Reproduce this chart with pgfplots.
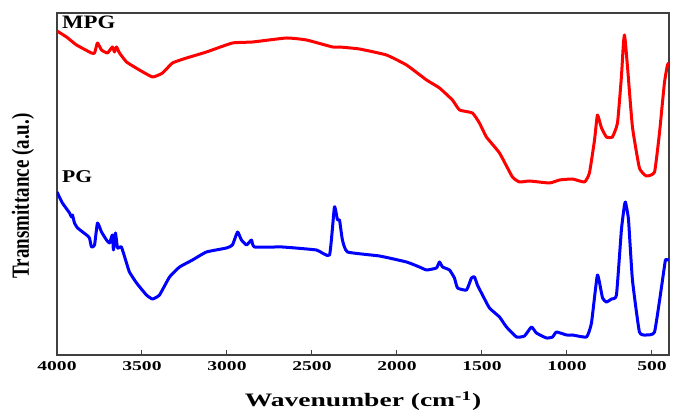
\documentclass[border=0pt]{standalone}
\usepackage{graphicx}
\usepackage{fontspec}
\setmainfont{Liberation Serif}
\usepackage{pgfplots}
\pgfplotsset{compat=1.18}
\newcommand{\sx}[1]{\scalebox{1.45}[1]{#1}}
\begin{document}
\begin{tikzpicture}
\begin{axis}[
  scale only axis, width=612pt, height=342pt,
  x dir=reverse, xmin=400, xmax=4000, ymin=0, ymax=342,
  axis line style={draw=black!75, line width=1.2pt},
  xtick={4000,3500,3000,2500,2000,1500,1000,500},
  xticklabels={\sx{4000},\sx{3500},\sx{3000},\sx{2500},\sx{2000},\sx{1500},\sx{1000},\sx{500}},
  xtick pos=bottom, tick align=inside, major tick length=5pt,
  tick style={black!75, line width=1pt},
  ytick=\empty,
  xticklabel style={font=\fontsize{13.5}{14}\selectfont\bfseries, yshift=-3pt},
  xlabel={\sx{Wavenumber (cm\textsuperscript{-1})}},
  ylabel={\scalebox{1}[1.3]{Transmittance (a.u.)}},
  every axis x label/.style={at={(axis description cs:0.5,0)}, yshift=-46pt, anchor=center, font=\fontsize{19}{20}\selectfont\bfseries},
  every axis y label/.style={at={(axis description cs:0,0.5)}, xshift=-34pt, yshift=-12pt, anchor=center, rotate=90, font=\fontsize{19}{20}\selectfont\bfseries},
  clip=true,
]
\addplot[red, line width=3pt, line join=round, smooth, tension=0.25] coordinates {
(4000,324) (3944,318) (3885,310) (3797,302) (3779,302) (3762,312) (3738,305) (3703,302) (3674,308) (3662,303) (3650,308) (3632,302) (3591,293) (3515,285) (3438,278) (3379,282) (3321,292) (3238,297) (3121,303) (2968,312) (2850,313) (2650,317) (2532,315) (2379,308) (2338,308) (2221,306) (2062,300) (1944,290) (1826,275) (1750,267) (1674,255) (1632,245) (1556,242) (1515,232) (1474,218) (1397,202) (1321,178) (1279,173) (1221,174) (1103,172) (1044,175) (968,176) (897,173) (868,182) (838,215) (821,240) (797,227) (768,218) (733,218) (703,232) (680,278) (668,312) (662,320) (656,312) (644,288) (615,228) (574,187) (533,179) (485,183) (456,222) (427,272) (409,290) (400,292)
};
\addplot[blue, line width=3pt, line join=round, smooth, tension=0.25] coordinates {
(4000,163) (3968,152) (3926,142) (3915,138) (3909,140) (3897,132) (3879,127) (3826,120) (3809,117) (3797,108) (3779,110) (3762,132) (3738,123) (3709,115) (3691,112) (3674,120) (3668,105) (3656,122) (3644,107) (3621,108) (3591,92) (3574,83) (3532,72) (3474,60) (3438,56) (3397,60) (3338,78) (3279,88) (3203,95) (3121,103) (3003,107) (2968,110) (2938,123) (2915,115) (2885,110) (2856,115) (2838,108) (2674,108) (2474,105) (2397,100) (2368,148) (2350,135) (2338,135) (2321,115) (2291,103) (2103,99) (1944,93) (1868,88) (1826,85) (1768,87) (1750,93) (1732,88) (1691,85) (1662,77) (1644,67) (1591,65) (1562,77) (1544,78) (1527,70) (1497,60) (1456,47) (1397,38) (1356,28) (1297,18) (1250,19) (1209,28) (1180,22) (1121,17) (1085,18) (1062,23) (1003,20) (968,20) (885,18) (856,32) (821,80) (791,57) (768,53) (738,56) (709,60) (680,125) (662,150) (656,153) (650,148) (638,135) (615,75) (574,23) (533,20) (485,23) (444,68) (421,95) (409,95) (400,95)
};
\node[anchor=west, inner sep=0pt, font=\fontsize{19}{20}\selectfont\bfseries] at (rel axis cs:0.008,0.974) {\scalebox{1.2}[1]{MPG}};
\node[anchor=west, inner sep=0pt, font=\fontsize{18}{20}\selectfont\bfseries] at (rel axis cs:0.008,0.523) {\scalebox{1.2}[1]{PG}};
\end{axis}
\pgfresetboundingbox
\useasboundingbox (-57pt,-56pt) rectangle (621pt,355pt);
\end{tikzpicture}
\end{document}
